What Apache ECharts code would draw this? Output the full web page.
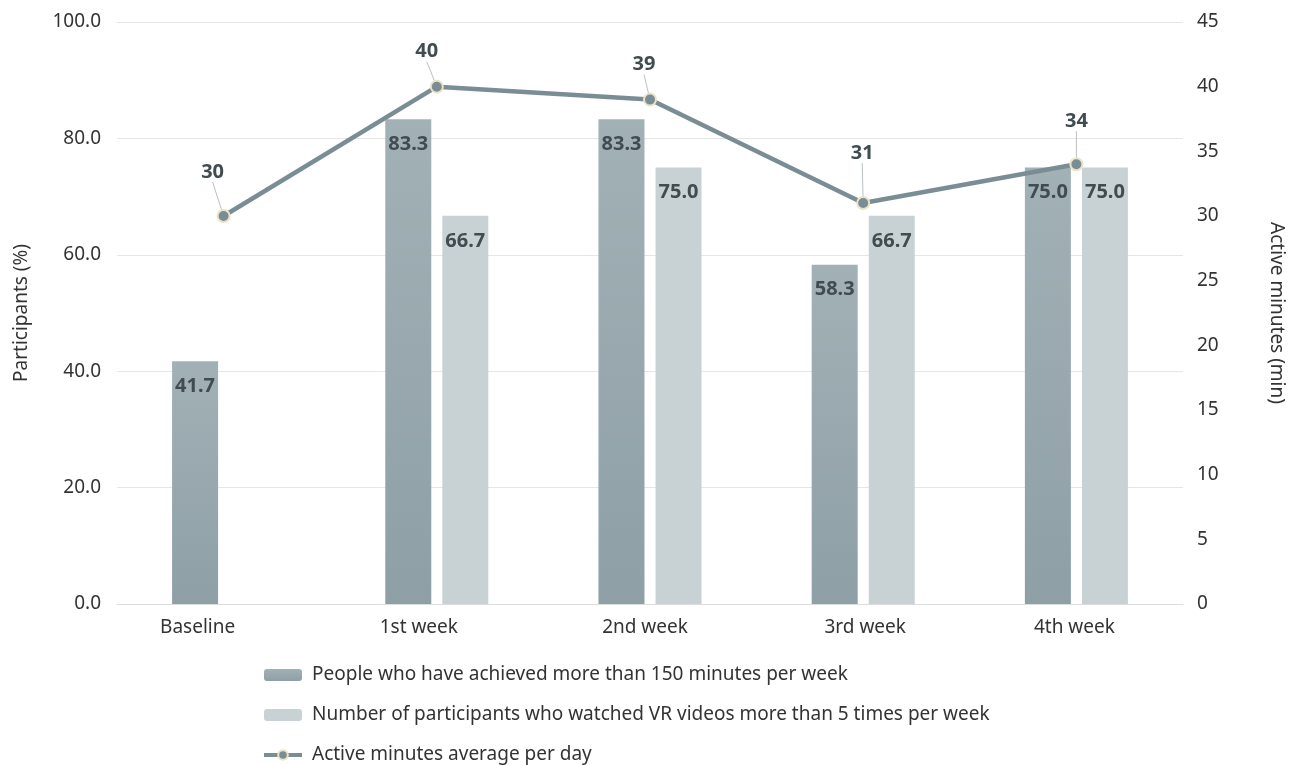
<!DOCTYPE html>
<html>
<head>
<meta charset="utf-8">
<script src="https://cdn.jsdelivr.net/npm/echarts@6/dist/echarts.min.js"></script>
<style>
  html, body { margin: 0; padding: 0; background: #fff; }
  #chart { width: 1300px; height: 765px; }
</style>
</head>
<body>
<div id="chart"></div>
<script>
// Weekly activity of participants
const categories = ['Baseline', '1st week', '2nd week', '3rd week', '4th week'];
const achievedPct = [41.7, 83.3, 83.3, 58.3, 75.0];
const watchedVrPct = [null, 66.7, 75.0, 66.7, 75.0];
const activeMinutes = [30, 40, 39, 31, 34];
const seriesNames = [
  'People who have achieved more than 150 minutes per week',
  'Number of participants who watched VR videos more than 5 times per week',
  'Active minutes average per day'
];

// Offsets of the line's value labels from their points (px)
const lineLabelOffsets = [[-11, -44], [-10, -35], [-6, -35], [-1, -50], [0, -43]];
// Horizontal nudges of the category labels (px, negative = left)
const categoryLabelShift = [-26, -18, -5, 2, -2];

const FONT = '"Noto Sans", sans-serif';
const chart = echarts.init(document.getElementById('chart'));

const barLabel = {
  show: true,
  position: 'insideTop',
  distance: 15,
  color: '#414c51',
  fontFamily: FONT,
  fontWeight: 'bold',
  fontSize: 20,
  formatter: p => p.value == null ? '' : Number(p.value).toFixed(1)
};

// rich styles that shift each category label sideways
const catRich = {};
categoryLabelShift.forEach((s, i) => {
  catRich['c' + i] = {
    fontSize: 19, color: '#333', fontFamily: FONT,
    padding: s < 0 ? [0, -2 * s, 0, 0] : [0, 0, 0, 2 * s]
  };
});

chart.setOption({
  animation: false,
  textStyle: { fontFamily: FONT },
  grid: { left: 117, right: 117, top: 22, bottom: 161 },
  legend: {
    orient: 'vertical',
    left: 262,
    top: 664,
    height: 104,
    padding: 0,
    itemWidth: 38,
    itemHeight: 12,
    itemGap: 18,
    textStyle: { fontSize: 19, lineHeight: 22, color: '#333', fontFamily: FONT, padding: [0, 0, 0, 5] },
    data: [
      { name: seriesNames[0] },
      { name: seriesNames[1] },
      { name: seriesNames[2], lineStyle: { width: 4 } }
    ]
  },
  xAxis: {
    type: 'category',
    data: categories,
    axisTick: { show: false },
    axisLine: { lineStyle: { color: '#dcdcdc', width: 1 } },
    axisLabel: {
      margin: 14,
      formatter: (v, i) => '{c' + i + '|' + v + '}',
      rich: catRich
    }
  },
  yAxis: [
    {
      type: 'value',
      min: 0, max: 100, interval: 20,
      name: 'Participants (%)',
      nameLocation: 'middle',
      nameGap: 86,
      nameTextStyle: { fontSize: 19, color: '#333', fontFamily: FONT },
      axisLabel: { formatter: v => v.toFixed(1), color: '#333', fontSize: 19, margin: 16, fontFamily: FONT },
      splitLine: { lineStyle: { color: '#e6e6e6', width: 1 } },
      axisLine: { show: false },
      axisTick: { show: false }
    },
    {
      type: 'value',
      min: 0, max: 45, interval: 5,
      name: 'Active minutes (min)',
      nameLocation: 'middle',
      nameGap: 84,
      nameRotate: -90,
      nameTextStyle: { fontSize: 19, color: '#333', fontFamily: FONT },
      axisLabel: { color: '#333', fontSize: 19, margin: 14, fontFamily: FONT },
      splitLine: { show: false },
      axisLine: { show: false },
      axisTick: { show: false }
    }
  ],
  series: [
    {
      name: seriesNames[0],
      type: 'bar',
      yAxisIndex: 0,
      data: achievedPct,
      barWidth: 46,
      barGap: '24%',
      itemStyle: {
        color: new echarts.graphic.LinearGradient(0, 0, 0, 1, [
          { offset: 0, color: '#a2b1b6' },
          { offset: 1, color: '#8e9fa6' }
        ])
      },
      label: barLabel
    },
    {
      name: seriesNames[1],
      type: 'bar',
      yAxisIndex: 0,
      data: watchedVrPct,
      barWidth: 46,
      barGap: '24%',
      itemStyle: { color: '#c8d2d5' },
      label: barLabel
    },
    {
      name: seriesNames[2],
      type: 'line',
      yAxisIndex: 1,
      data: activeMinutes,
      z: 5,
      symbol: 'circle',
      symbolSize: 12,
      lineStyle: { color: '#7b8d94', width: 4.5 },
      itemStyle: { color: '#7b8d94', borderColor: '#ebe3c6', borderWidth: 2 },
      label: {
        show: true,
        position: 'inside',
        color: '#414c51',
        fontFamily: FONT,
        fontWeight: 'bold',
        fontSize: 20,
        align: 'center',
        verticalAlign: 'middle'
      },
      labelLine: { show: true, length2: 0, lineStyle: { color: '#b9c0c3', width: 1 } },
      labelLayout: function (p) {
        const off = lineLabelOffsets[p.dataIndex];
        const cx = p.rect.x + p.rect.width / 2;
        const cy = p.rect.y + p.rect.height / 2;
        return { x: cx + off[0], y: cy + off[1], align: 'center', verticalAlign: 'middle' };
      }
    }
  ]
});
</script>
</body>
</html>
